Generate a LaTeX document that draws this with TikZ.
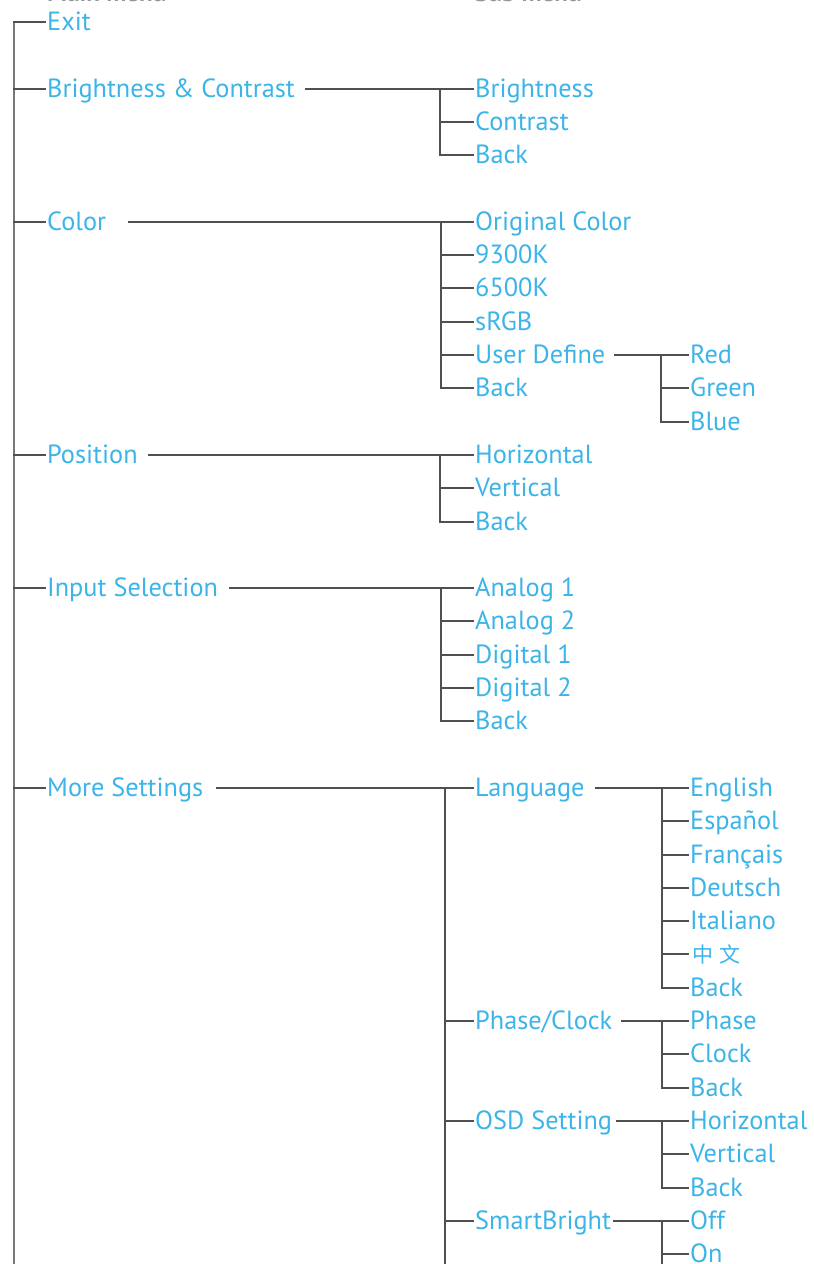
\documentclass[tikz,border=0pt]{standalone}
\usepackage{fontspec}
\setmainfont{PT Sans}
\newfontfamily\cjk{Noto Sans CJK SC}
\definecolor{menu}{RGB}{60,180,232}
\definecolor{linec}{RGB}{80,80,80}
\definecolor{mainc}{RGB}{120,120,120}
\definecolor{headc}{RGB}{150,150,150}
\begin{document}
\begin{tikzpicture}[x=1pt,y=-1pt,
  item/.style={anchor=west,inner sep=0pt,text height=22pt,text depth=5pt,text=menu,font=\fontsize{26.3}{29}\selectfont},
  br/.style={draw=linec,line width=2pt},
  tick/.style={draw=linec,line width=2pt,shorten >=1.5pt},
  mainln/.style={draw=mainc,line width=2.6pt},
  head/.style={anchor=base west,inner sep=0pt,text=headc,font=\fontsize{25}{28}\selectfont\bfseries}]
\useasboundingbox (0,0) rectangle (814,1264);
\begin{scope}
\clip (0,0) rectangle (814,1264);
\node[head] (mainhead) at (47,1.2) {Main menu};
\node[head] (subhead) at (475,1.2) {Sub menu};
\end{scope}
% main menu
\node[item] (exit)  at (47,22)    {Exit};
\node[item] (bc)    at (47,88.6)  {Brightness \& Contrast};
\node[item] (color) at (47,221.8) {Color};
\node[item] (pos)   at (47,454.9) {Position};
\node[item] (input) at (47,588.1) {Input Selection};
\node[item] (more)  at (47,787.9) {More Settings};
% sub menu
\node[item] (bri)  at (475,88.6)  {Brightness};
\node[item] (con)  at (475,121.9) {Contrast};
\node[item] (bcb)  at (475,155.2) {Back};
\node[item] (oc)   at (475,221.8) {Original Color};
\node[item] (k93)  at (475,255.1) {9300K};
\node[item] (k65)  at (475,288.4) {6500K};
\node[item] (srgb) at (475,321.7) {sRGB};
\node[item] (ud)   at (475,355)   {User Define};
\node[item] (cb)   at (475,388.3) {Back};
\node[item] (hor)  at (475,454.9) {Horizontal};
\node[item] (ver)  at (475,488.2) {Vertical};
\node[item] (pb)   at (475,521.5) {Back};
\node[item] (a1)   at (475,588.1) {Analog 1};
\node[item] (a2)   at (475,621.4) {Analog 2};
\node[item] (d1)   at (475,654.7) {Digital 1};
\node[item] (d2)   at (475,688)   {Digital 2};
\node[item] (ib)   at (475,721.3) {Back};
\node[item] (lang) at (475,787.9) {Language};
\node[item] (pc)   at (475,1021)  {Phase/Clock};
\node[item] (osd)  at (475,1120.9){OSD Setting};
\node[item] (sb)   at (475,1220.8){SmartBright};
% third level
\node[item] (red)   at (690,355)   {Red};
\node[item] (green) at (690,388.3) {Green};
\node[item] (blue)  at (690,421.6) {Blue};
\node[item] (en)  at (690,787.9) {English};
\node[item] (es)  at (690,821.2) {Español};
\node[item] (fr)  at (690,854.5) {Français};
\node[item] (de)  at (690,887.8) {Deutsch};
\node[item] (it)  at (690,921.1) {Italiano};
\node[item] (zh)  at (692,954.4) {\cjk\fontsize{21}{24}\selectfont 中\hspace{6pt}文};
\node[item] (lb)  at (690,987.7) {Back};
\node[item] (ph)  at (690,1021)  {Phase};
\node[item] (cl)  at (690,1054.3){Clock};
\node[item] (pcb) at (690,1087.6){Back};
\node[item] (oh)  at (690,1120.9){Horizontal};
\node[item] (ov)  at (690,1154.2){Vertical};
\node[item] (ob)  at (690,1187.5){Back};
\node[item] (off) at (690,1220.8){Off};
\node[item] (on)  at (690,1254.1){On};
% vertical positions
\coordinate (vmain) at (14,0);
\coordinate (vmainEnd) at (14,1270);
\coordinate (vbc) at (440,0);
\coordinate (vcol) at (441,0);
\coordinate (vpos) at (440,0);
\coordinate (vin) at (441,0);
\coordinate (vmore) at (445,0);
\coordinate (vmoreEnd) at (445,1270);
\coordinate (vud) at (661,0);
\coordinate (vlang) at (662,0);
\coordinate (vpc) at (662,0);
\coordinate (vosd) at (662,0);
\coordinate (vsb) at (662,0);
\coordinate (vsbEnd) at (662,1270);
% main tree
\draw[mainln] (vmainEnd) -- (vmain |- exit.west);
\foreach \n in {exit,bc,color,pos,input,more}
  \draw[tick] ([xshift=-1pt]vmain |- \n.west) -- (\n.west);
% Brightness & Contrast
\draw[tick] ([xshift=10pt]bc.east) -- (bri.west);
\draw[tick] (vbc |- bri.west) |- (bcb.west);
\draw[tick] (vbc |- con.west) -- (con.west);
% Color
\draw[tick] ([xshift=22pt]color.east) -- (oc.west);
\draw[tick] (vcol |- oc.west) |- (cb.west);
\foreach \n in {k93,k65,srgb,ud} \draw[tick] (vcol |- \n.west) -- (\n.west);
\draw[tick] ([xshift=9pt]ud.east) -- (red.west);
\draw[tick] (vud |- red.west) |- (blue.west);
\draw[tick] (vud |- green.west) -- (green.west);
% Position
\draw[tick] ([xshift=10pt]pos.east) -- (hor.west);
\draw[tick] (vpos |- hor.west) |- (pb.west);
\draw[tick] (vpos |- ver.west) -- (ver.west);
% Input Selection
\draw[tick] ([xshift=11pt]input.east) -- (a1.west);
\draw[tick] (vin |- a1.west) |- (ib.west);
\foreach \n in {a2,d1,d2} \draw[tick] (vin |- \n.west) -- (\n.west);
% More Settings
\draw[tick] ([xshift=13pt]more.east) -- (lang.west);
\draw[br] (vmore |- lang.west) -- (vmoreEnd);
\foreach \n in {pc,osd,sb} \draw[tick] (vmore |- \n.west) -- (\n.west);
% Language
\draw[tick] ([xshift=10pt]lang.east) -- (en.west);
\draw[tick] (vlang |- en.west) |- (lb.west);
\foreach \n in {es,fr,de,it} \draw[tick] (vlang |- \n.west) -- (\n.west);
\draw[tick] (vlang |- zh.west) -- ([xshift=-2pt]zh.west);
% Phase/Clock
\draw[tick] ([xshift=8pt]pc.east) -- (ph.west);
\draw[tick] (vpc |- ph.west) |- (pcb.west);
\draw[tick] (vpc |- cl.west) -- (cl.west);
% OSD Setting
\draw[tick] ([xshift=4pt]osd.east) -- (oh.west);
\draw[tick] (vosd |- oh.west) |- (ob.west);
\draw[tick] (vosd |- ov.west) -- (ov.west);
% SmartBright
\draw[tick] ([xshift=2pt]sb.east) -- (off.west);
\draw[br] (vsb |- off.west) -- (vsbEnd);
\draw[tick] (vsb |- on.west) -- (on.west);
\end{tikzpicture}
\end{document}
